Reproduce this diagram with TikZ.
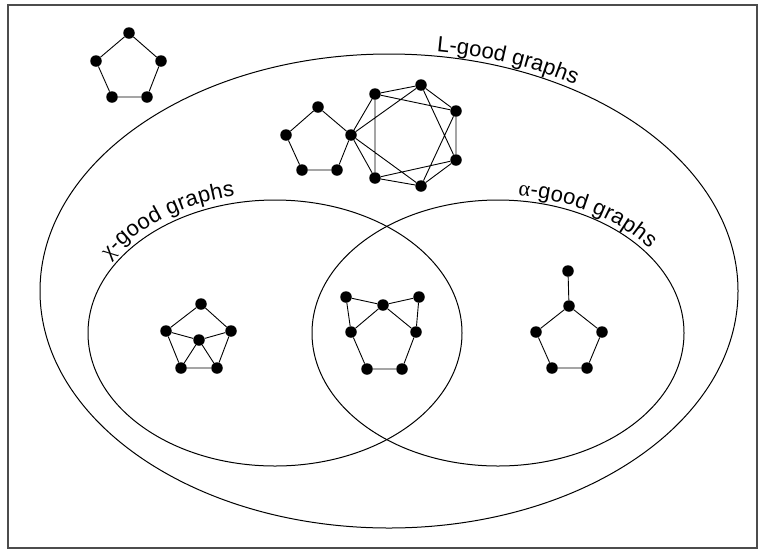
\documentclass[tikz,border=0pt]{standalone}
\usepackage{fontspec}
\setmainfont{Liberation Sans}
\newfontfamily\grk{Liberation Serif}
\usetikzlibrary{decorations.text}
\newcommand\lblfont{\fontsize{22}{26}\selectfont}
\begin{document}
\begin{tikzpicture}[x=1pt,y=-1pt,
  dot/.style={circle,fill=black,inner sep=0pt,minimum size=11.5pt},
  edge/.style={line width=0.9pt},
  region/.style={line width=1pt},
  lbl/.style={decorate,decoration={text along path,text align=center,raise=5pt,text={#1}}}]
\useasboundingbox (0,0) rectangle (765,550);
\draw[line width=1.4pt,draw=black!70] (8,5) rectangle (757,548);

% regions
\coordinate (cL) at (389,291);
\coordinate (cX) at (275,333);
\coordinate (cA) at (498,333);
\draw[region] (cL) ellipse [x radius=349, y radius=237];
\draw[region] (cX) ellipse [x radius=187, y radius=133];
\draw[region] (cA) ellipse [x radius=186, y radius=133];

% labels
\path[lbl={|\lblfont|L-good graphs}] (cL) ++(-99:349 and 237) arc[start angle=-99, end angle=-39, x radius=349, y radius=237];
\path[lbl={|\lblfont\grk|χ|\lblfont|-good graphs}, decoration={raise=7pt}] (cX) ++(-158:187 and 133) arc[start angle=-158, end angle=-95, x radius=187, y radius=133];
\path[lbl={|\lblfont\grk|α|\lblfont|-good graphs}] (cA) ++(-89:186 and 133) arc[start angle=-89, end angle=-31, x radius=186, y radius=133];

% graph 1: C5 outside
\node[dot] (p1) at (129,33) {};
\node[dot] (p2) at (161,61) {};
\node[dot] (p3) at (147,97) {};
\node[dot] (p4) at (112,97) {};
\node[dot] (p5) at (96,61) {};
\draw[edge] (p1)--(p2)--(p3)--(p4)--(p5)--(p1);

% graph 2: C5 glued to C7^2
\node[dot] (q1) at (318,107) {};
\node[dot] (q2) at (286,135) {};
\node[dot] (q3) at (302,170) {};
\node[dot] (q4) at (337,170) {};
\node[dot] (hA) at (351,135) {};
\node[dot] (hB) at (375,94) {};
\node[dot] (hC) at (421,85) {};
\node[dot] (hD) at (456,111) {};
\node[dot] (hE) at (456,160) {};
\node[dot] (hF) at (421,186) {};
\node[dot] (hG) at (375,178) {};
\draw[edge] (hA)--(q1)--(q2)--(q3)--(q4)--(hA);
\draw[edge] (hA)--(hB)--(hC)--(hD)--(hE)--(hF)--(hG)--(hA);
\draw[edge] (hA)--(hC) (hB)--(hD) (hC)--(hE) (hD)--(hF) (hE)--(hG) (hF)--(hA) (hG)--(hB);

% graph 3: chi-good
\node[dot] (r1) at (201,304) {};
\node[dot] (r2) at (166,331) {};
\node[dot] (r3) at (231,331) {};
\node[dot] (r0) at (199,340) {};
\node[dot] (r4) at (181,368) {};
\node[dot] (r5) at (217,368) {};
\draw[edge] (r1)--(r3)--(r5)--(r4)--(r2)--(r1);
\draw[edge] (r0)--(r2) (r0)--(r3) (r0)--(r4) (r0)--(r5);

% graph 4: middle
\node[dot] (s1) at (346,297) {};
\node[dot] (s2) at (419,297) {};
\node[dot] (s0) at (383,305) {};
\node[dot] (s3) at (351,332) {};
\node[dot] (s4) at (416,332) {};
\node[dot] (s5) at (367,369) {};
\node[dot] (s6) at (402,369) {};
\draw[edge] (s1)--(s0)--(s2) (s1)--(s3) (s2)--(s4) (s0)--(s3) (s0)--(s4) (s3)--(s5)--(s6)--(s4);

% graph 5: alpha-good
\node[dot] (t0) at (568,271) {};
\node[dot] (t1) at (569,306) {};
\node[dot] (t2) at (536,332) {};
\node[dot] (t3) at (602,332) {};
\node[dot] (t4) at (552,368) {};
\node[dot] (t5) at (587,368) {};
\draw[edge] (t0)--(t1) (t1)--(t2)--(t4)--(t5)--(t3)--(t1);
\end{tikzpicture}
\end{document}
